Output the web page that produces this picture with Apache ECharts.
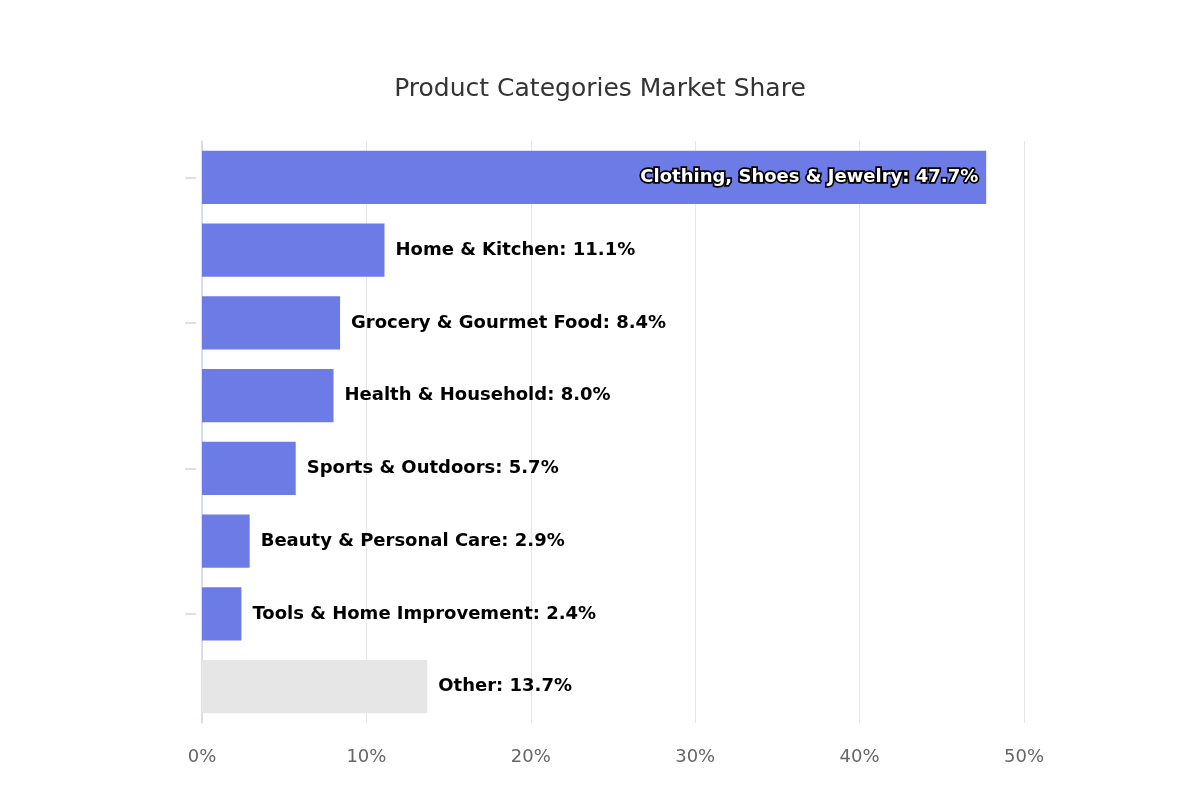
<!DOCTYPE html>
<html>
<head>
<meta charset="utf-8">
<script src="https://cdn.jsdelivr.net/npm/echarts@6/dist/echarts.min.js"></script>
<style>
  html, body { margin: 0; padding: 0; background: #fff; }
  #chart { width: 1200px; height: 810px; }
</style>
</head>
<body>
<div id="chart"></div>
<script>
const categories = [
    'Clothing, Shoes & Jewelry',
    'Home & Kitchen',
    'Grocery & Gourmet Food',
    'Health & Household',
    'Sports & Outdoors',
    'Beauty & Personal Care',
    'Tools & Home Improvement',
    'Other'
];
const shares = [47.7, 11.1, 8.4, 8.0, 5.7, 2.9, 2.4, 13.7];
const xTicks = [0, 10, 20, 30, 40, 50];

const barColor = '#6c7be5';
const otherColor = '#e6e6e6';

const chart = echarts.init(document.getElementById('chart'));

const seriesData = shares.map((v, i) => {
    const item = {
        value: v,
        itemStyle: { color: categories[i] === 'Other' ? otherColor : barColor }
    };
    if (i === 0) {
        // 最大的条形，标签放在条形内部
        item.label = {
            position: 'insideRight',
            distance: 8,
            color: '#fff',
            textBorderColor: '#000',
            textBorderWidth: 3.5
        };
    }
    return item;
});

const option = {
    backgroundColor: '#fff',
    animation: false,
    title: {
        text: 'Product Categories Market Share',
        left: 'center',
        top: 72,
        textStyle: {
            color: '#333',
            fontSize: 25,
            fontWeight: 'normal',
            fontFamily: 'DejaVu Sans'
        }
    },
    grid: {
        left: 202,
        right: 176,
        top: 141,
        bottom: 87
    },
    xAxis: {
        type: 'value',
        min: xTicks[0],
        max: xTicks[xTicks.length - 1],
        interval: 10,
        axisLine: { show: false },
        axisTick: { show: false },
        axisLabel: {
            color: '#666',
            fontSize: 18,
            fontFamily: 'DejaVu Sans',
            margin: 25,
            formatter: '{value}%'
        },
        splitLine: {
            lineStyle: { color: '#e6e6e6', width: 1 }
        }
    },
    yAxis: [
        {
            type: 'category',
            data: categories,
            inverse: true,
            axisLine: { show: true, lineStyle: { color: '#ccd6eb', width: 1.5 } },
            axisTick: { show: false },
            axisLabel: { show: false },
            splitLine: { show: false }
        },
        {
            // 只用来画左侧的刻度
            type: 'category',
            data: categories,
            inverse: true,
            position: 'left',
            offset: 6,
            axisLine: { show: false },
            axisTick: {
                show: true,
                interval: 1,
                alignWithLabel: true,
                length: 11,
                lineStyle: { color: '#ccd6eb', width: 1.5 }
            },
            axisLabel: { show: false },
            splitLine: { show: false }
        }
    ],
    series: [
        {
            type: 'bar',
            yAxisIndex: 0,
            data: seriesData,
            barWidth: '73%',
            label: {
                show: true,
                position: 'right',
                distance: 11,
                color: '#000',
                fontSize: 18,
                fontWeight: 'bold',
                fontFamily: 'DejaVu Sans',
                formatter: (p) => `${p.name}: ${p.value.toFixed(1)}%`
            }
        }
    ]
};

chart.setOption(option);
</script>
</body>
</html>
